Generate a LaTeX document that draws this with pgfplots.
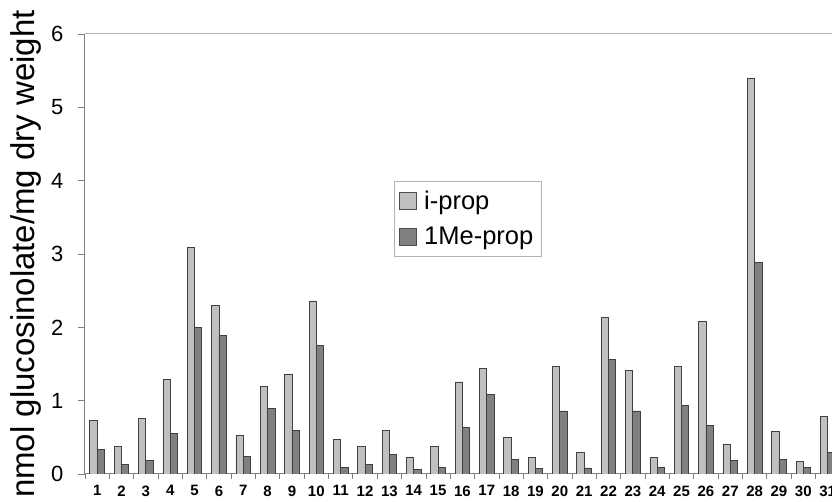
\documentclass[border=0pt]{standalone}
\usepackage{pgfplots}
\pgfplotsset{compat=1.18}
\usepackage{fontspec}
\setmainfont{Liberation Sans}
\definecolor{lightbar}{HTML}{C0C0C0}
\definecolor{darkbar}{HTML}{808080}
\begin{document}
\begin{tikzpicture}
\path[use as bounding box, clip] (-85pt,-28pt) rectangle (747pt,474pt);
\begin{axis}[
  scale only axis,
  width=754.85pt, height=440pt,
  xmin=0.5, xmax=31.5, ymin=0, ymax=6,
  axis x line*=bottom, axis y line*=left,
  axis line style={draw=gray, line width=1pt},
  ybar=0pt, bar width=7.3pt,
  xtick={1,...,31},
  minor xtick={0.5,1.5,...,31.5},
  major x tick style={draw=none},
  minor x tick style={draw=gray, line width=0.8pt},
  minor tick length=5pt,
  major tick length=7pt,
  tick align=outside,
  ytick={0,1,...,6},
  y tick style={draw=gray, line width=0.8pt},
  /pgf/number format/assume math mode=true,
  every y tick label/.append style={font=\fontsize{22}{22}\selectfont, xshift=-11pt},
  every x tick label/.append style={font=\fontsize{15}{15}\selectfont\bfseries, yshift=-1pt},
  ylabel={nmol glucosinolate/mg dry weight},
  ylabel style={font=\fontsize{33}{33}\selectfont, at={(axis description cs:0,0.5)}, anchor=base, yshift=50pt},
  legend style={at={(axis cs:13.19,4.0)}, anchor=north west, draw=gray!60, line width=0.8pt,
    font=\fontsize{25.5}{27}\selectfont, inner xsep=5pt, inner ysep=8pt, row sep=12pt,
    nodes={inner xsep=3pt, inner ysep=2pt},
    /tikz/every odd column/.append style={column sep=4pt}},
  legend cell align=left,
  legend image code/.code={\draw[#1, draw=black!70, line width=0.8pt] (0pt,-8.5pt) rectangle (17pt,8.5pt);},
]
\addplot[fill=lightbar, draw=black!75, line width=0.8pt] coordinates {
(1,0.73) (2,0.37) (3,0.755) (4,1.295) (5,3.09) (6,2.30) (7,0.527) (8,1.19) (9,1.364) (10,2.36)
(11,0.473) (12,0.38) (13,0.595) (14,0.232) (15,0.37) (16,1.255) (17,1.436) (18,0.495) (19,0.23) (20,1.47)
(21,0.29) (22,2.13) (23,1.418) (24,0.23) (25,1.47) (26,2.08) (27,0.40) (28,5.40) (29,0.577) (30,0.177) (31,0.79)};
\addlegendentry{i-prop}
\addplot[fill=darkbar, draw=black!75, line width=0.8pt] coordinates {
(1,0.34) (2,0.13) (3,0.18) (4,0.555) (5,2.0) (6,1.886) (7,0.236) (8,0.895) (9,0.595) (10,1.75)
(11,0.086) (12,0.127) (13,0.268) (14,0.06) (15,0.095) (16,0.63) (17,1.09) (18,0.195) (19,0.073) (20,0.86)
(21,0.082) (22,1.56) (23,0.86) (24,0.095) (25,0.93) (26,0.668) (27,0.18) (28,2.887) (29,0.195) (30,0.086) (31,0.29)};
\addlegendentry{1Me-prop}
\draw[draw=gray!60, line width=1pt] (axis cs:0.5,6) -- (axis cs:31.5,6);
\end{axis}
\end{tikzpicture}
\end{document}
